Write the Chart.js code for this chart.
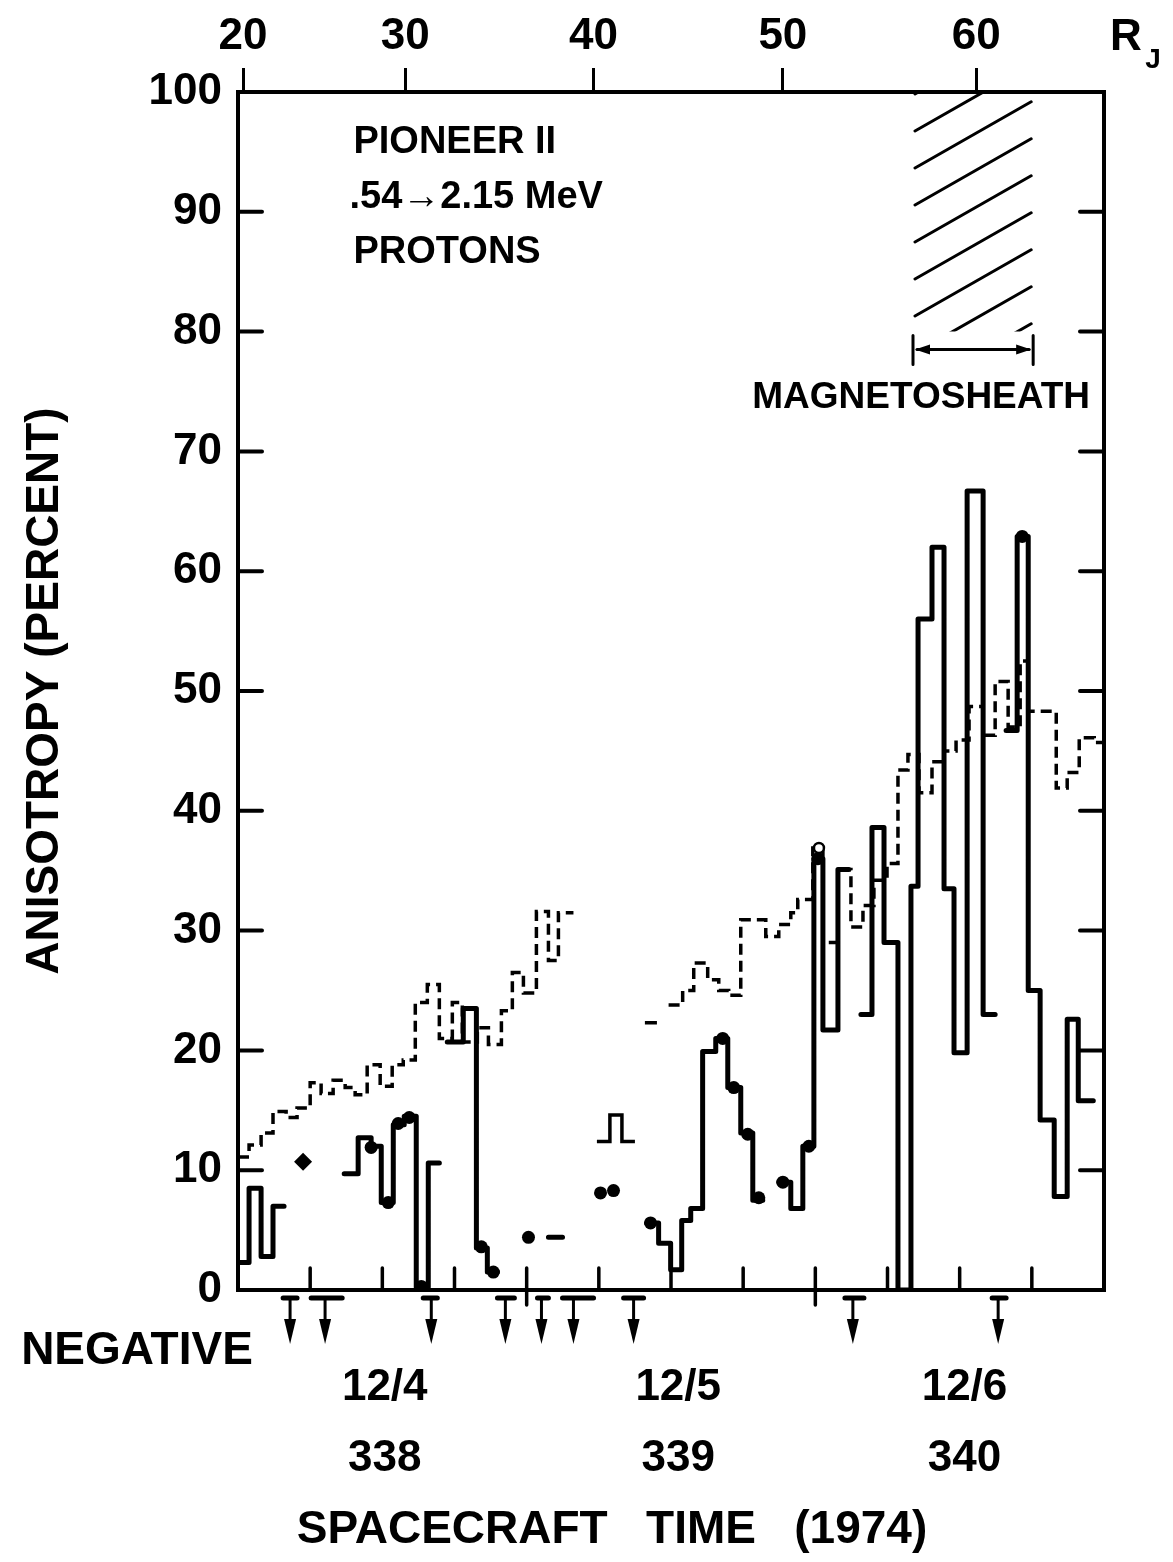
<!DOCTYPE html>
<html>
<head>
<meta charset="utf-8">
<title>Pioneer 11 proton anisotropy</title>
<script src="https://cdn.jsdelivr.net/npm/chart.js@4.4.0/dist/chart.umd.min.js"></script>
<style>
  html, body { margin: 0; padding: 0; background: #fff; }
  #wrap { width: 1173px; height: 1562px; }
</style>
</head>
<body>
<div id="wrap"><canvas id="anisoChart" width="1173" height="1562"></canvas></div>
<script>
// anisotropy of .54 - 2.15 MeV protons seen by Pioneer 11, 12/4 - 12/6 1974
// x is spacecraft time in hours from 12/4 00:00, y is anisotropy in percent

// solid histogram: bin edges (hours) and bin values, null = no bin drawn
const solidT = [0, 0.92, 1.92, 2.91, 3.83, 8.83, 9.99, 11.07, 11.91, 12.91, 13.82, 14.82, 15.82, 16.74,
  17.40, 18.73, 19.82, 20.73, 21.57, 25.81, 26.98, 33.97, 34.97, 35.97, 36.89, 37.64, 38.63, 39.72,
  40.72, 41.80, 42.80, 43.63, 44.96, 45.96, 46.96, 47.88, 48.63, 49.88, 50.79, 51.79, 52.71, 53.71,
  54.87, 55.95, 56.54, 57.70, 58.70, 59.53, 60.62, 61.95, 62.95, 63.86, 64.78, 65.70, 66.69, 67.86,
  68.94, 69.86, 71.11];
const solidV = [2.3, 8.5, 2.8, 7.0, null, 9.7, 12.7, 12.0, 7.3, 13.8, 14.5, 0.2, 10.6, null,
  20.7, 23.5, 3.5, 1.5, null, 4.4, null, 5.6, 3.9, 1.7, 5.8, 6.8, 19.9, 21.0,
  16.9, 13.1, 7.5, null, 9.0, 6.8, 12.0, 36.0, 21.7, 35.1, null, 23.0, 38.6, 29.0,
  0, 33.7, 56.0, 62.0, 33.5, 19.8, 66.7, 23.0, null, 46.7, 62.9, 25.0, 14.2, 7.8,
  22.6, 15.8];

// dashed histogram
const dashT = [0, 0.92, 1.92, 2.91, 4.00, 4.91, 6.00, 6.91, 7.91, 8.91, 9.74, 10.74, 11.82, 12.82,
  13.74, 14.74, 15.74, 16.74, 17.82, 18.65, 19.90, 20.82, 21.90, 22.81, 23.73, 24.81, 25.81, 26.64,
  27.89, 35.80, 36.97, 37.89, 39.05, 39.97, 40.80, 41.80, 43.88, 44.96, 45.96, 46.54, 47.79, 48.63,
  49.88, 50.96, 51.96, 52.87, 53.96, 54.87, 55.70, 56.62, 57.70, 58.70, 59.70, 60.78, 61.95, 62.95,
  64.03, 65.03, 65.70, 68.03, 68.94, 69.94, 71.19, 72];
const dashV = [11.1, 12.1, 13.1, 14.9, 14.4, 15.2, 17.3, 16.4, 17.5, 16.9, 16.3, 18.8, 17.0, 18.8,
  19.2, 24.0, 25.5, 21.0, 24.0, 20.7, 21.9, 20.5, 23.3, 26.5, 24.8, 31.6, 27.5, 31.5,
  null, 23.8, 25.0, 27.3, 25.9, 25.0, 24.6, 30.9, 29.5, 30.5, 31.5, 32.6, 36.9, 29.0,
  35.1, 30.3, 32.1, 34.2, 35.6, 43.4, 44.7, 41.5, 44.1, 45.0, 45.9, 48.7, 46.3, 50.8,
  47.0, 52.5, 48.3, 41.9, 43.2, 46.1, 45.7];

// isolated short bins of the thin curve early on 12/5
const thinT = [29.84, 30.92, 31.92, 33.0, 33.83, 34.83];
const thinV = [12.4, 14.6, 12.4, null, 22.3];

// single points
const dotT = [11.07, 12.49, 13.32, 14.24, 15.24, 20.23, 21.23, 24.15, 30.14, 31.22, 34.30, 40.30,
  41.22, 42.38, 43.30, 45.30, 47.46, 48.21, 65.20];
const dotV = [11.9, 7.3, 13.9, 14.4, 0.3, 3.6, 1.5, 4.4, 8.1, 8.3, 5.6, 21.0,
  16.9, 13.0, 7.7, 9.0, 12.0, 36.0, 62.9];
const diamondT = [5.41];
const diamondV = [10.7];
const ringT = [48.3];
const ringV = [36.9];

// intervals with negative anisotropy (arrow time, interval start, interval end)
const negAt = [4.33, 7.24, 16.07, 22.23, 25.23, 27.89, 32.89, 51.12, 63.20];
const negFrom = [3.75, 6.08, 15.40, 21.57, 24.90, 26.98, 32.06, 50.46, 62.70];
const negTo = [4.91, 8.66, 16.57, 22.98, 25.81, 29.56, 33.72, 52.04, 63.86];

// axis labels
const rjHours = [0.42, 13.9, 29.56, 45.3, 61.37];
const rjLabels = ["20", "30", "40", "50", "60"];
const dayMid = [12.2, 36.6, 60.4];
const dayDates = ["12/4", "12/5", "12/6"];
const dayNums = ["338", "339", "340"];
const sixHourTicks = [6, 12, 18, 24, 30, 36, 42, 48, 54, 60, 66];
const dayEdges = [24, 48];

// magnetosheath interval
const sheathStart = 56.12;
const sheathEnd = 66.11;
const sheathFloor = 80;

const FONT = "'Liberation Sans', Arial, sans-serif";
Chart.defaults.font.family = FONT;
Chart.defaults.color = '#000';

// turn edges + values into points for a stepped line, gaps break the line
function stepPoints(T, V) {
  const pts = [];
  for (let i = 0; i < V.length; i++) {
    if (V[i] === null) { pts.push({ x: T[i], y: null }); continue; }
    pts.push({ x: T[i], y: V[i] });
    if (i === V.length - 1 || V[i + 1] === null) pts.push({ x: T[i + 1], y: V[i] });
  }
  return pts;
}

function points(T, V) {
  return T.map((t, i) => ({ x: t, y: V[i] }));
}

const overlay = {
  id: 'overlay',
  beforeDraw(chart) {
    const ctx = chart.ctx;
    ctx.save();
    ctx.fillStyle = '#fff';
    ctx.fillRect(0, 0, chart.width, chart.height);
    ctx.restore();
  },
  afterDraw(chart) {
    const { ctx, chartArea: a } = chart;
    const x = chart.scales.x, y = chart.scales.y;
    ctx.save();
    ctx.strokeStyle = '#000';
    ctx.fillStyle = '#000';
    ctx.lineCap = 'round';

    // frame
    ctx.lineWidth = 4;
    ctx.strokeRect(a.left, a.top, a.right - a.left, a.bottom - a.top);

    // inward ticks on both y sides
    ctx.beginPath();
    y.ticks.forEach(t => {
      if (t.value <= 0 || t.value >= 100) return;
      const py = y.getPixelForValue(t.value);
      ctx.moveTo(a.left, py); ctx.lineTo(a.left + 24, py);
      ctx.moveTo(a.right, py); ctx.lineTo(a.right - 24, py);
    });
    ctx.stroke();

    // inward time ticks, day boundaries cross the axis
    ctx.beginPath();
    ctx.lineWidth = 3.5;
    sixHourTicks.forEach(h => {
      const px = x.getPixelForValue(h);
      const isDay = dayEdges.includes(h);
      ctx.moveTo(px, a.bottom - 22);
      ctx.lineTo(px, isDay ? a.bottom + 15 : a.bottom);
    });
    ctx.stroke();

    // magnetosheath hatching
    const hx0 = x.getPixelForValue(sheathStart), hx1 = x.getPixelForValue(sheathEnd);
    const hy0 = y.getPixelForValue(100), hy1 = y.getPixelForValue(sheathFloor);
    ctx.save();
    ctx.beginPath();
    ctx.rect(hx0, hy0, hx1 - hx0, hy1 - hy0);
    ctx.clip();
    ctx.lineWidth = 3;
    ctx.beginPath();
    for (let k = -4; k <= 6; k++) {
      const yl = hy0 + 76 + k * 37;
      ctx.moveTo(hx0 + 2, yl);
      ctx.lineTo(hx1 - 2, yl - 0.57 * (hx1 - hx0 - 4));
    }
    ctx.stroke();
    ctx.restore();

    // magnetosheath bracket
    const by = y.getPixelForValue(78.5);
    ctx.lineWidth = 3;
    ctx.beginPath();
    ctx.moveTo(hx0, by - 14); ctx.lineTo(hx0, by + 15);
    ctx.moveTo(hx1, by - 14); ctx.lineTo(hx1, by + 15);
    ctx.moveTo(hx0 + 4, by); ctx.lineTo(hx1 - 4, by);
    ctx.stroke();
    ctx.beginPath();
    ctx.moveTo(hx0 + 2, by); ctx.lineTo(hx0 + 17, by - 5); ctx.lineTo(hx0 + 17, by + 5); ctx.closePath();
    ctx.moveTo(hx1 - 2, by); ctx.lineTo(hx1 - 17, by - 5); ctx.lineTo(hx1 - 17, by + 5); ctx.closePath();
    ctx.fill();

    ctx.textBaseline = 'middle';
    ctx.font = "bold 37px " + FONT;
    ctx.textAlign = 'center';
    ctx.fillText('MAGNETOSHEATH', x.getPixelForValue(56.8), y.getPixelForValue(74.5));

    // instrument note
    ctx.textAlign = 'left';
    ctx.font = "bold 38px " + FONT;
    const nx = x.getPixelForValue(9.6);
    ctx.fillText('PIONEER II', nx, y.getPixelForValue(95.8));
    ctx.fillText('.54\u21922.15 MeV', nx - 4, y.getPixelForValue(91.2));
    ctx.fillText('PROTONS', nx, y.getPixelForValue(86.6));

    // negative anisotropy markers below the axis
    negAt.forEach((h, i) => {
      const px = x.getPixelForValue(h);
      ctx.lineWidth = 5;
      ctx.beginPath();
      ctx.moveTo(x.getPixelForValue(negFrom[i]), a.bottom + 8);
      ctx.lineTo(x.getPixelForValue(negTo[i]), a.bottom + 8);
      ctx.stroke();
      ctx.lineWidth = 3;
      ctx.beginPath();
      ctx.moveTo(px, a.bottom + 8); ctx.lineTo(px, a.bottom + 34);
      ctx.stroke();
      ctx.beginPath();
      ctx.moveTo(px - 6, a.bottom + 29); ctx.lineTo(px + 6, a.bottom + 29); ctx.lineTo(px, a.bottom + 54);
      ctx.closePath();
      ctx.fill();
    });
    ctx.font = "bold 46px " + FONT;
    ctx.textAlign = 'center';
    ctx.fillText('NEGATIVE', 137, 1351);

    // distance unit on the top axis
    ctx.font = "bold 44px " + FONT;
    ctx.fillText('R', 1126, 38);
    ctx.font = "bold 28px " + FONT;
    ctx.fillText('J', 1153, 60);

    // time axis title
    ctx.font = "bold 46px " + FONT;
    ctx.fillText('SPACECRAFT   TIME   (1974)', 612, 1530);
    ctx.restore();
  }
};

new Chart(document.getElementById('anisoChart'), {
  type: 'line',
  data: {
    datasets: [
      { label: 'ring', data: points(ringT, ringV), showLine: false, pointRadius: 5,
        pointBackgroundColor: '#fff', pointBorderColor: '#000', pointBorderWidth: 2.5 },
      { label: 'dots', data: points(dotT, dotV), showLine: false, pointRadius: 6.5,
        pointBackgroundColor: '#000', pointBorderColor: '#000', pointBorderWidth: 0 },
      { label: 'diamond', data: points(diamondT, diamondV), showLine: false, pointStyle: 'rectRot',
        pointRadius: 9, pointBackgroundColor: '#000', pointBorderColor: '#000', pointBorderWidth: 0 },
      { label: 'solid', data: stepPoints(solidT, solidV), stepped: true, borderColor: '#000',
        borderWidth: 5, pointRadius: 0, borderJoinStyle: 'round', borderCapStyle: 'round', fill: false },
      { label: 'thin', data: stepPoints(thinT, thinV), stepped: true, borderColor: '#000',
        borderWidth: 3.5, pointRadius: 0, fill: false },
      { label: 'dashed', data: stepPoints(dashT, dashV), stepped: true, borderColor: '#000',
        borderWidth: 3.5, borderDash: [11, 6], pointRadius: 0, fill: false }
    ]
  },
  options: {
    responsive: false,
    animation: false,
    layout: { padding: { left: 0, top: 0, right: 69, bottom: 0 } },
    plugins: { legend: { display: false }, tooltip: { enabled: false } },
    scales: {
      x: {
        type: 'linear', position: 'bottom', min: 0, max: 72,
        afterBuildTicks: s => { s.ticks = dayMid.map(v => ({ value: v })); },
        afterFit: s => { s.height = 272; },
        grid: { display: false, drawTicks: false },
        border: { display: false },
        ticks: {
          autoSkip: false, maxRotation: 0, padding: 63, color: '#000',
          font: { size: 44, weight: 'bold', lineHeight: 1.6 },
          callback: (v, i) => [dayDates[i], dayNums[i]]
        }
      },
      x2: {
        type: 'linear', position: 'top', min: 0, max: 72,
        afterBuildTicks: s => { s.ticks = rjHours.map(v => ({ value: v })); },
        afterFit: s => { s.height = 92; },
        grid: { display: true, drawOnChartArea: false, drawTicks: true, tickLength: 24,
          lineWidth: 3, tickWidth: 3, color: '#000' },
        border: { display: false },
        ticks: {
          autoSkip: false, maxRotation: 0, padding: 9, color: '#000',
          font: { size: 44, weight: 'bold', lineHeight: 1 },
          callback: (v, i) => rjLabels[i]
        }
      },
      y: {
        type: 'linear', position: 'left', min: 0, max: 100,
        afterFit: s => { s.width = 238; },
        grid: { display: false, drawTicks: false },
        border: { display: false },
        ticks: { stepSize: 10, padding: 16, color: '#000',
          font: { size: 44, weight: 'bold' } },
        title: {
          display: true, text: 'ANISOTROPY (PERCENT)', color: '#000',
          font: { size: 46, weight: 'bold', lineHeight: 1 },
          padding: { top: 22, bottom: 0 }
        }
      }
    }
  },
  plugins: [overlay]
});
</script>
</body>
</html>
